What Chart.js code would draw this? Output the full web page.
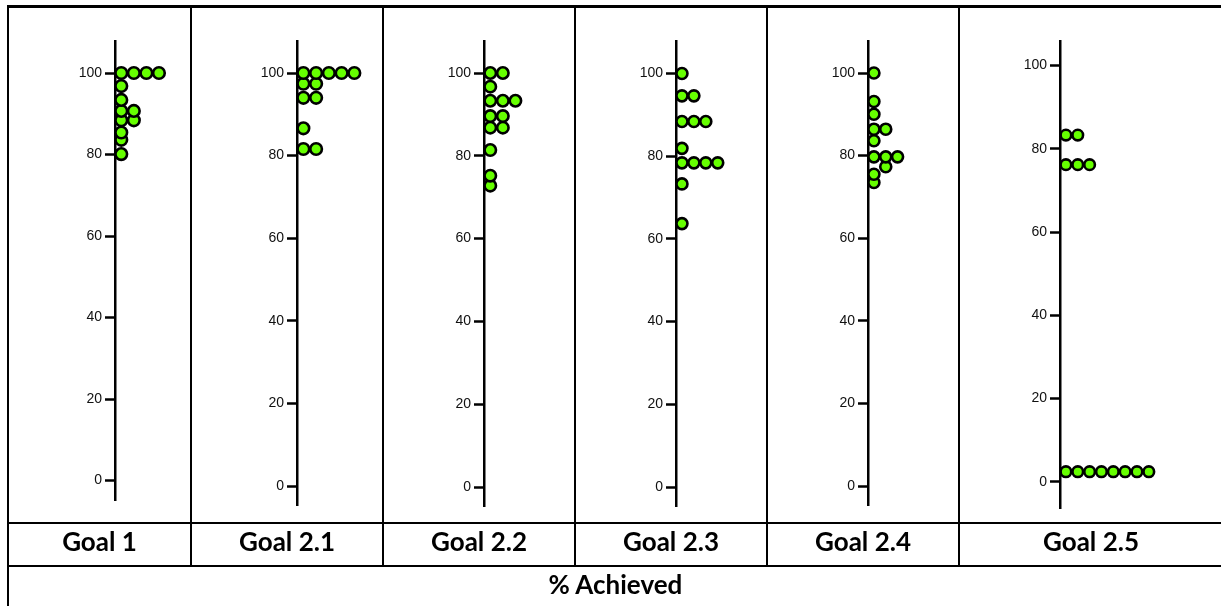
<!DOCTYPE html>
<html>
<head>
<meta charset="utf-8">
<script src="https://cdn.jsdelivr.net/npm/chart.js@4.4.0/dist/chart.umd.min.js"></script>
<style>
html, body { margin: 0; padding: 0; background: #fff; }
#wrap { position: relative; width: 1221px; height: 606px; overflow: hidden; font-family: Lato, "Liberation Sans", sans-serif; }
#wrap canvas { position: absolute; }
.rule { position: absolute; background: #000; z-index: 2; }
.cellText { position: absolute; font-weight: bold; font-size: 26px; text-align: center; color: #000; z-index: 3; }
</style>
</head>
<body>
<div id="wrap"></div>
<script>
// data (percent achieved per goal)
const goalNames = ["Goal 1", "Goal 2.1", "Goal 2.2", "Goal 2.3", "Goal 2.4", "Goal 2.5"];
const goal1Scores = [100, 100, 100, 100, 96.8, 93.4, 90.7, 90.7, 88.4, 88.4, 85.4, 83.6, 80.1];
const goal21Scores = [100, 100, 100, 100, 100, 97.4, 97.4, 94.0, 94.0, 86.6, 81.6, 81.6];
const goal22Scores = [100, 100, 96.7, 93.3, 93.3, 93.3, 89.6, 89.6, 86.8, 86.8, 81.4, 75.2, 72.8];
const goal23Scores = [100, 94.6, 94.6, 88.4, 88.4, 88.4, 81.9, 78.4, 78.4, 78.4, 78.4, 73.3, 63.7];
const goal24Scores = [100, 93.1, 90.0, 86.4, 86.4, 83.6, 79.7, 79.7, 79.7, 77.3, 75.5, 73.5];
const goal25Scores = [83.3, 83.3, 76.2, 76.2, 76.2, 2.4, 2.4, 2.4, 2.4, 2.4, 2.4, 2.4, 2.4];
const tickValues = [0, 20, 40, 60, 80, 100];
const footerTitle = "% Achieved";

const allScores = [goal1Scores, goal21Scores, goal22Scores, goal23Scores, goal24Scores, goal25Scores];

// page geometry
const colEdges = [8, 191, 383, 575, 767, 959, 1223];
const CANVAS_TOP = 30, CANVAS_BOTTOM = 520, AXIS_TOP = 40;
const panelLayout = [
    { axisX: 115, zeroY: 480.5, hundredY: 71.7, bottom: 500, pitch: 13.3, radius: 5.8 },
    { axisX: 297, zeroY: 486, hundredY: 71.7, bottom: 505, pitch: 13.5, radius: 5.8 },
    { axisX: 484, zeroY: 487, hundredY: 71.7, bottom: 506, pitch: 13.3, radius: 5.7 },
    { axisX: 676, zeroY: 487, hundredY: 72.2, bottom: 506, pitch: 12.6, radius: 5.5 },
    { axisX: 868, zeroY: 486, hundredY: 71.7, bottom: 505, pitch: 12.5, radius: 5.5 },
    { axisX: 1060, zeroY: 482, hundredY: 64.3, bottom: 509, pitch: 12.5, radius: 5.3 }
];
const BIN = 2.5;

// prism-style column scatter: points in the same value bin go side by side
function swarm(values) {
    const counts = {};
    return [...values].sort((a, b) => a - b).map(v => {
        const bin = Math.floor(v / BIN + 1e-9);
        const col = counts[bin] || 0;
        counts[bin] = col + 1;
        return { x: col + 0.5, y: v };
    });
}

const wrap = document.getElementById("wrap");

function addRule(x, y, w, h) {
    const d = document.createElement("div");
    d.className = "rule";
    d.style.left = x + "px"; d.style.top = y + "px";
    d.style.width = w + "px"; d.style.height = h + "px";
    wrap.appendChild(d);
}

function addText(text, x, y, w, h) {
    const d = document.createElement("div");
    d.className = "cellText";
    d.textContent = text;
    d.style.left = x + "px"; d.style.top = y + "px";
    d.style.width = w + "px"; d.style.height = h + "px";
    d.style.lineHeight = h + "px";
    wrap.appendChild(d);
}

panelLayout.forEach((L, i) => {
    const canvas = document.createElement("canvas");
    canvas.width = 200;
    canvas.height = CANVAS_BOTTOM - CANVAS_TOP;
    canvas.style.left = (L.axisX - 50) + "px";
    canvas.style.top = CANVAS_TOP + "px";
    wrap.appendChild(canvas);

    const ppu = (L.zeroY - L.hundredY) / 100;
    new Chart(canvas, {
        type: 'scatter',
        data: {
            datasets: [{
                data: swarm(allScores[i]),
                pointRadius: L.radius,
                pointHoverRadius: L.radius,
                pointBackgroundColor: '#66ff00',
                pointBorderColor: '#000',
                pointBorderWidth: 2.6,
                clip: false
            }]
        },
        options: {
            responsive: false,
            animation: false,
            events: [],
            layout: { padding: { top: AXIS_TOP - CANVAS_TOP, bottom: CANVAS_BOTTOM - L.bottom, left: 0, right: 0 } },
            plugins: { legend: { display: false }, tooltip: { enabled: false } },
            scales: {
                x: { type: 'linear', display: false, min: 0, max: 150 / L.pitch },
                y: {
                    type: 'linear',
                    min: (L.zeroY - L.bottom) / ppu,
                    max: (L.zeroY - AXIS_TOP) / ppu,
                    afterFit: s => { s.width = 50; },
                    afterBuildTicks: s => { s.ticks = tickValues.map(v => ({ value: v })); },
                    border: { display: true, color: '#000', width: 2.5 },
                    grid: { drawOnChartArea: false, drawTicks: true, tickLength: 10, tickWidth: 2.5, tickColor: '#000' },
                    ticks: { color: '#111', font: { family: '"Liberation Sans", Arial, sans-serif', size: 14 }, padding: 3 }
                }
            }
        }
    });
});

// table rules
addRule(7, 5, 1214, 2.5);
addRule(6.7, 5, 2.5, 601);
colEdges.slice(1, 6).forEach(x => addRule(x - 1.2, 5, 2.5, 561));
addRule(7, 521.5, 1214, 2.5);
addRule(7, 564.8, 1214, 2.5);

// goal names and footer
goalNames.forEach((name, i) => {
    addText(name, colEdges[i], 523, colEdges[i + 1] - colEdges[i], 36);
});
addText(footerTitle, colEdges[0], 566, colEdges[6] - colEdges[0], 36);
</script>
</body>
</html>
